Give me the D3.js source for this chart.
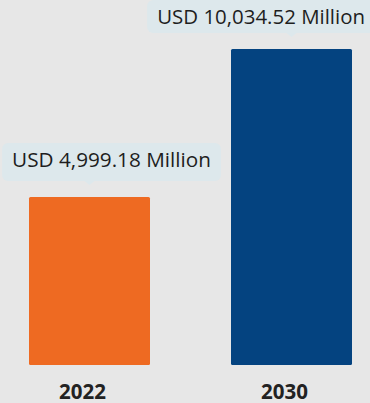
<!DOCTYPE html>
<html>
<head>
<meta charset="utf-8">
<script src="https://cdn.jsdelivr.net/npm/d3@7"></script>
<style>
  html, body { margin: 0; padding: 0; background: #e7e7e7; }
  svg { display: block; }
</style>
</head>
<body>
<svg id="chart" width="370" height="403"></svg>
<script>
const years = ["2022", "2030"];
const values = [4999.18, 10034.52];
const valueLabels = ["USD 4,999.18 Million", "USD 10,034.52 Million"];
const colors = ["#ee6a22", "#044380"];

const W = 370, H = 403;
const svg = d3.select("#chart");

svg.append("rect").attr("width", W).attr("height", H).attr("fill", "#e7e7e7");

const x = d3.scaleBand().domain(years).range([29, 352]).paddingInner(0.401).paddingOuter(0);
const y = d3.scaleLinear().domain([-718, 10034.52]).range([365, 49]);

const font = "'Open Sans', 'DejaVu Sans', sans-serif";

// bars
svg.selectAll("rect.bar").data(years).join("rect")
  .attr("class", "bar")
  .attr("x", d => x(d))
  .attr("y", (d, i) => y(values[i]))
  .attr("width", x.bandwidth())
  .attr("height", (d, i) => y(-718) - y(values[i]))
  .attr("rx", 1.5)
  .attr("fill", (d, i) => colors[i]);

// value labels with boxes
years.forEach((yr, i) => {
  const barTop = y(values[i]);
  const cx = x(yr) + x.bandwidth() / 2;
  const g = svg.append("g");
  const t = g.append("text")
    .attr("font-family", font)
    .attr("font-size", 18.5)
    .attr("fill", "#1e1e1e")
    .text(valueLabels[i]);
  let tw = t.node().getComputedTextLength();
  const target = i === 0 ? 199 : 208;
  t.attr("font-size", 18.5 * target / tw);
  tw = t.node().getComputedTextLength();
  let tcx = cx + 22;
  let right = Math.min(tcx + tw / 2, 365);
  const left = right - tw;
  const baseline = Math.max(barTop - 30, 24);
  t.attr("x", left).attr("y", baseline);
  const boxTop = baseline - 24;
  const boxBottom = Math.min(baseline + 15, barTop - 16);
  g.insert("rect", "text")
    .attr("x", left - 10).attr("y", boxTop)
    .attr("width", tw + 20).attr("height", boxBottom - boxTop)
    .attr("rx", 6)
    .attr("fill", "#dde8ec");
  g.insert("path", "text")
    .attr("d", `M${cx - 5},${boxBottom} L${cx + 5},${boxBottom} L${cx},${boxBottom + 4} Z`)
    .attr("fill", "#dde8ec");
});

// year labels
svg.selectAll("text.year").data(years).join("text")
  .attr("class", "year")
  .attr("x", d => x(d) + x.bandwidth() / 2 - 7)
  .attr("y", 398.5)
  .attr("text-anchor", "middle")
  .attr("font-family", font)
  .attr("font-weight", 700)
  .attr("font-size", 20.5)
  .attr("fill", "#222")
  .text(d => d);
</script>
</body>
</html>
